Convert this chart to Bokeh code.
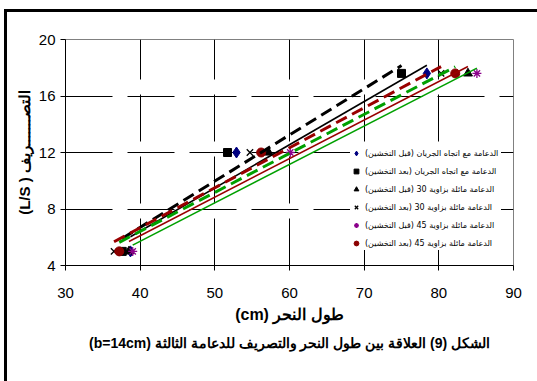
import numpy as np
from bokeh.plotting import figure
from bokeh.models import Legend, LegendItem, Title, FixedTicker
from bokeh.embed import file_html
from bokeh.resources import INLINE

# Discharge Q (L/s) for the three runs
discharge = [5.0, 12.0, 17.6]

# Scour length (cm) for each pier case
x_flow_before = [38.7, 52.9, 78.4]     # diamond
x_flow_after = [37.6, 51.7, 75.0]      # square
x_30_before = [38.5, 57.2, 83.9]       # triangle
x_30_after = [36.5, 54.7, 80.3]        # x
x_45_before = [39.0, 60.1, 85.1]       # asterisk
x_45_after = [37.2, 56.2, 82.2]        # circle

labels = [
    "الدعامة مع اتجاه الجريان (قبل التخشين)",
    "الدعامة مع اتجاه الجريان (بعد التخشين)",
    "الدعامة مائلة بزاوية 30 (قبل التخشين)",
    "الدعامة مائلة بزاوية 30 (بعد التخشين)",
    "الدعامة مائلة بزاوية 45 (قبل التخشين)",
    "الدعامة مائلة بزاوية 45 (بعد التخشين)",
]

x_ticks = [30, 40, 50, 60, 70, 80, 90]
y_ticks = [4, 8, 12, 16, 20]

x_title = "(cm) طول النحر"
y_title = "(L/S ) التصـــــــريف"
caption = "(b=14cm) الشكل (9) العلاقة بين طول النحر والتصريف للدعامة الثالثة"

p = figure(width=530, height=369, x_range=(30, 90), y_range=(4, 20),
           output_backend="svg", toolbar_location=None,
           min_border_left=58, min_border_top=27, min_border_right=24,
           min_border_bottom=116)
p.margin = (12, 0, 0, 7)
p.styles = {"outline": "3px solid black"}

p.outline_line_color = "#808080"
p.outline_line_width = 1

p.xaxis.ticker = FixedTicker(ticks=x_ticks)
p.yaxis.ticker = FixedTicker(ticks=y_ticks)
for ax in (p.xaxis, p.yaxis):
    ax.axis_line_color = "black"
    ax.major_tick_line_color = "black"
    ax.major_tick_out = 5
    ax.major_tick_in = 0
    ax.minor_tick_out = 0
    ax.minor_tick_in = 0
    ax.major_label_text_font = "Liberation Sans"
    ax.major_label_text_font_size = "15px"
    ax.major_label_text_color = "black"
    ax.axis_label_text_font = "Liberation Sans"
    ax.axis_label_text_font_style = "bold"
    ax.axis_label_text_font_size = "15px"
    ax.axis_label_text_color = "black"
p.xaxis.axis_label_text_font_size = "16px"
p.xaxis.major_label_standoff = 17
p.yaxis.major_label_standoff = 5
p.xaxis.axis_label = x_title
p.yaxis.axis_label = y_title
p.xaxis.axis_label_standoff = 5
p.yaxis.axis_label_standoff = 3

for g in (p.xgrid, p.ygrid):
    g.grid_line_color = "black"
    g.grid_line_width = 1
    g.grid_line_dash = "47 15"

series = [
    (x_flow_before, "diamond", "#000080", 11, "black", "solid", 1.6),
    (x_flow_after, "square", "black", 8, "black", "dashed", 3),
    (x_30_before, "triangle", "black", 9, "#990000", "solid", 1.6),
    (x_30_after, "x", "black", 9, "#990000", "dashed", 3),
    (x_45_before, "asterisk", "#8B008B", 9, "#00A000", "solid", 1.6),
    (x_45_after, "circle", "#8B0000", 9, "#00A000", "dashed", 3),
]

items = []
for (xs, mk, col, sz, lcol, ldash, lw), lbl in zip(series, labels):
    if mk in ("x", "asterisk"):
        r = p.scatter(xs, discharge, marker=mk, size=sz, line_color=col,
                      line_width=1.3)
    else:
        r = p.scatter(xs, discharge, marker=mk, size=sz, fill_color=col,
                      line_color=col)
    items.append(LegendItem(label=lbl, renderers=[r]))

for (xs, mk, col, sz, lcol, ldash, lw) in series:
    coef = np.polyfit(xs, discharge, 1)
    xl = np.array([min(xs), max(xs)])
    yl = np.polyval(coef, xl)
    dash = "12 6" if ldash == "dashed" else "solid"
    p.line(xl, yl, line_color=lcol, line_width=lw, line_dash=dash)

legend = Legend(items=items, location=(285, 15), background_fill_color="white",
                background_fill_alpha=1, border_line_color=None,
                label_text_font="DejaVu Sans", label_text_font_size="8px",
                label_text_color="black", label_width=136,
                glyph_width=12, glyph_height=12, label_height=14, spacing=4,
                padding=4, label_standoff=3, margin=0)
p.add_layout(legend)

t = Title(text=caption, align="center", text_font="Liberation Sans",
          text_font_size="14px", text_font_style="bold", text_color="black",
          standoff=15)
p.add_layout(t, "below")

open("out.html", "w").write(file_html(p, INLINE))
